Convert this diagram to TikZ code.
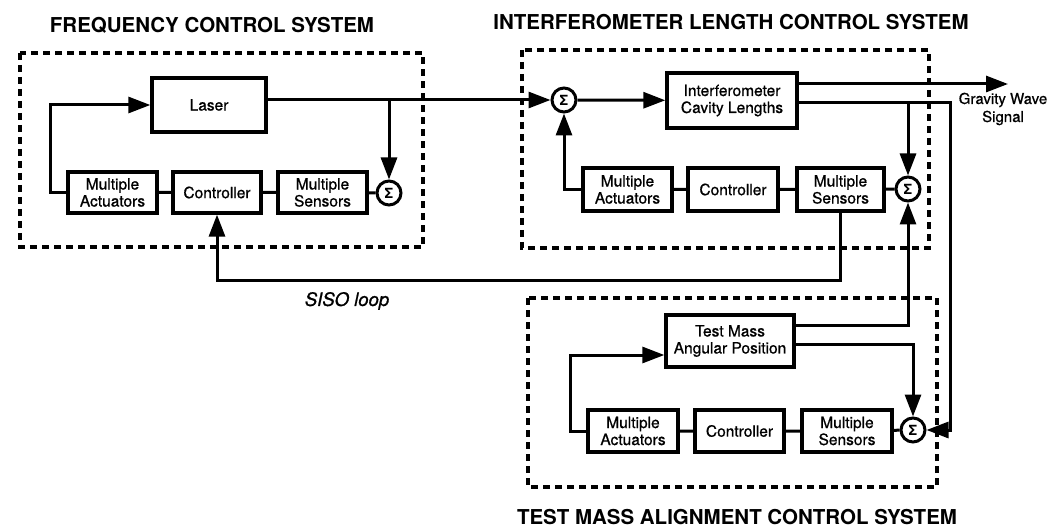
\documentclass[tikz,border=0pt]{standalone}
\usepackage{fontspec}
\setmainfont{TeX Gyre Heros}
\newfontfamily\blkfont{TeX Gyre Heros}[FakeBold=0.8]
\usetikzlibrary{arrows.meta}

\begin{document}
\begin{tikzpicture}[x=1pt,y=-1pt,
    blk/.style={draw,line width=3.3pt,align=center,inner sep=0pt,font=\blkfont\fontsize{15.5}{17}\selectfont},
    sumnode/.style={draw,circle,line width=3pt,minimum size=24pt,inner sep=0pt,font=\bfseries\fontsize{14}{14}\selectfont},
    sysbox/.style={draw,line width=3.2pt,dash pattern=on 7pt off 5pt},
    title/.style={font=\bfseries\fontsize{20.5}{20.5}\selectfont},
    link/.style={line width=3pt},
    sig/.style={line width=3pt,-{Triangle[length=22pt,width=16pt]}}]
    \useasboundingbox (0,0) rectangle (1062,529);
    % system outlines and titles
    \draw[sysbox] (20,53) rectangle (423,247);
    \draw[sysbox] (522,50) rectangle (929,248);
    \draw[sysbox] (528,298) rectangle (937,487);
    \node[title] (tfreq) at (212,25) {FREQUENCY CONTROL SYSTEM};
    \node[title] (tifo) at (731,22) {INTERFEROMETER LENGTH CONTROL SYSTEM};
    \node[title] (talign) at (737,517) {TEST MASS ALIGNMENT CONTROL SYSTEM};
    % frequency loop
    \node[blk,minimum width=114pt,minimum height=54pt] (laser) at (209,105) {Laser};
    \node[blk,minimum width=89pt,minimum height=41pt] (fact) at (112.5,192.5) {Multiple\\Actuators};
    \node[blk,minimum width=88pt,minimum height=41pt] (fctl) at (217,192.5) {Controller};
    \node[blk,minimum width=89pt,minimum height=41pt] (fsen) at (322.5,192.5) {Multiple\\Sensors};
    \node[sumnode] (fsum) at (389,193) {Σ};
    % interferometer loop
    \node[sumnode] (isum) at (564,100) {Σ};
    \node[blk,minimum width=130pt,minimum height=55pt] (cav) at (732,100.5) {Interferometer\\Cavity Lengths};
    \node[blk,minimum width=89pt,minimum height=43pt] (iact) at (627.5,189.5) {Multiple\\Actuators};
    \node[blk,minimum width=90pt,minimum height=43pt] (ictl) at (733,189.5) {Controller};
    \node[blk,minimum width=87pt,minimum height=43pt] (isen) at (840.5,189.5) {Multiple\\Sensors};
    \node[sumnode] (isum2) at (908,189) {Σ};
    \coordinate (gwtip) at (1008,84);
    \node[align=center,font=\blkfont\fontsize{15}{18}\selectfont] (gw) at (1003,109) {Gravity Wave\\Signal};
    % alignment loop
    \node[blk,minimum width=128pt,minimum height=52pt] (tm) at (730,341) {Test Mass\\Angular Position};
    \node[blk,minimum width=90pt,minimum height=42pt] (tact) at (633,431) {Multiple\\Actuators};
    \node[blk,minimum width=89pt,minimum height=42pt] (tctl) at (739.5,431) {Controller};
    \node[blk,minimum width=90pt,minimum height=42pt] (tsen) at (847,431) {Multiple\\Sensors};
    \node[sumnode] (tsum) at (913,430) {Σ};
    \node[font=\blkfont\itshape\fontsize{18.5}{18.5}\selectfont] (siso) at (347,301) {SISO loop};

    \draw[link] (fact) -- (fctl) -- (fsen) -- (fsum);
    \draw[sig] (fact.west) -- (50,192.5) |- (laser.west);
    \draw[sig] (laser.east |- isum) -- (isum);
    \draw[sig] (fsum |- isum) -- (fsum);
    \draw[sig] (isen.south) -- (isen.south |- 0,280) -| (fctl.south);

    \draw[link] (iact) -- (ictl) -- (isen) -- (isum2);
    \draw[sig] (isum) -- (cav);
    \draw[sig] (iact.west) -| (isum.south);
    \draw[sig] (cav.east |- gwtip) -- (gwtip);
    \draw[sig] (cav.east |- 0,103) -- (950,103) |- (tsum.east);
    \draw[sig] (isum2 |- 0,103) -- (isum2);

    \draw[link] (tact) -- (tctl) -- (tsen) -- (tsum);
    \draw[sig] (tm.east |- 0,325) -| (isum2.south);
    \draw[sig] (tm.east |- 0,344) -| (tsum.north);
    \draw[sig] (tact.west) -- (570,431) |- ([yshift=-14pt]tm.west);
\end{tikzpicture}
\end{document}
